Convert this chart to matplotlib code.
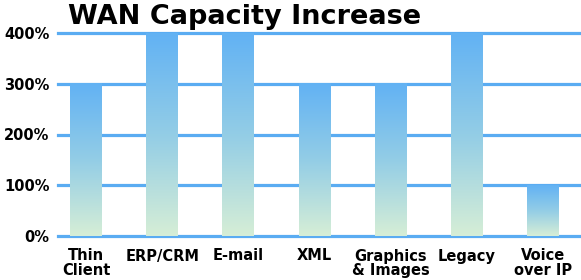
import numpy as np
import matplotlib.pyplot as plt
from matplotlib.colors import LinearSegmentedColormap

categories = ['Thin\nClient', 'ERP/CRM', 'E-mail', 'XML', 'Graphics\n& Images', 'Legacy', 'Voice\nover IP']
increase = [300, 400, 400, 300, 300, 400, 100]
yticks = [0, 100, 200, 300, 400]
ytick_labels = ['0%', '100%', '200%', '300%', '400%']

blue = '#5aacf2'
cmap = LinearSegmentedColormap.from_list('bar', ['#d6eed6', '#93cde6', '#62b2f4'])

fig = plt.figure(figsize=(5.81, 2.8), dpi=100)
ax = fig.add_axes([58/581, 44/280, 523/581, 203/280])

x = np.arange(len(categories))
width = 0.42
grad = np.linspace(0, 1, 256).reshape(-1, 1)
for xi, v in zip(x, increase):
    ax.imshow(grad, cmap=cmap, origin='lower', aspect='auto',
              extent=(xi - width/2, xi + width/2, 0, v), zorder=3)

for t in yticks:
    ax.axhline(t, color=blue, lw=2.3, zorder=1, clip_on=False)

ax.set_xlim(-0.368, 6.498)
ax.set_ylim(0, 400)
for s in ax.spines.values():
    s.set_visible(False)
ax.set_yticks(yticks)
ax.set_yticklabels(ytick_labels, fontsize=10.5, fontweight='bold')
ax.set_xticks(x)
ax.set_xticklabels(categories, fontsize=10.5, fontweight='bold', linespacing=0.95, va='top')
ax.tick_params(axis='y', length=0, pad=6)
ax.tick_params(axis='x', length=0, pad=9)

fig.text(68/581, 1 - 17/280, 'WAN Capacity Increase', fontsize=19.5, fontweight='bold',
         va='center', ha='left')

fig.savefig('out.png', dpi=100)
